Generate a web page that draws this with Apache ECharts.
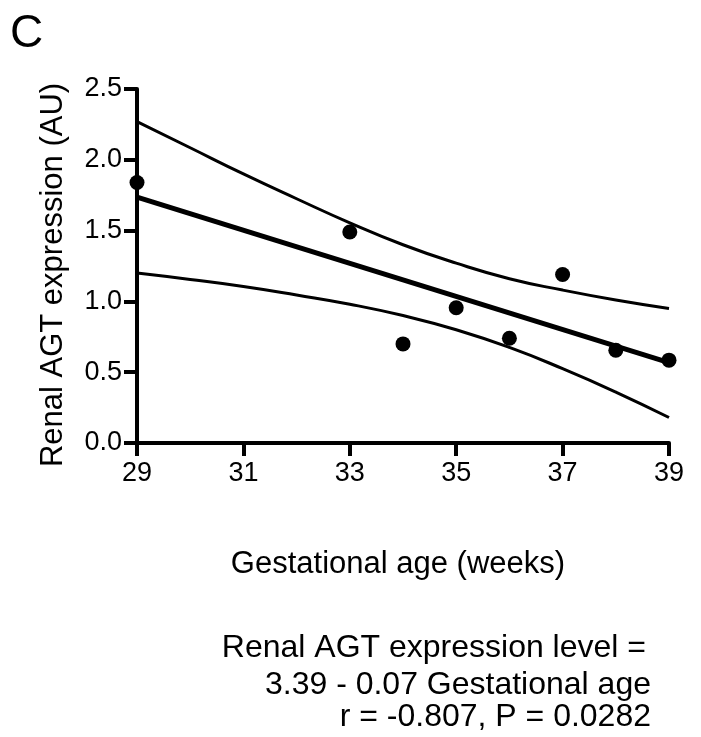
<!DOCTYPE html>
<html>
<head>
<meta charset="utf-8">
<script src="https://cdn.jsdelivr.net/npm/echarts@6/dist/echarts.min.js"></script>
<style>
  html, body { margin: 0; padding: 0; background: #fff; }
  #chart { width: 701px; height: 737px; }
</style>
</head>
<body>
<div id="chart"></div>
<script>
// measured points
var weeks = [29, 33, 34, 35, 36, 37, 38, 39]
var agtLevel = [1.84, 1.49, 0.70, 0.955, 0.74, 1.19, 0.655, 0.585]

// regression line and 95% band
var fitWeeks = [29, 39]
var fitLevel = [1.737, 0.567]
var bandWeeks = [29, 30, 31, 32, 33, 34, 35, 36, 37, 38, 39]
var bandUpper = [2.27, 2.085, 1.90, 1.725, 1.555, 1.40, 1.27, 1.16, 1.08, 1.01, 0.95]
var bandLower = [1.20, 1.155, 1.105, 1.045, 0.98, 0.90, 0.80, 0.675, 0.525, 0.36, 0.18]

var xTicks = [29, 31, 33, 35, 37, 39]
var yTicks = [0.0, 0.5, 1.0, 1.5, 2.0, 2.5]

function pairs(xs, ys) {
  return xs.map(function (x, i) { return [x, ys[i]] })
}

var chart = echarts.init(document.getElementById('chart'))
var font = 'Liberation Sans, Arial, sans-serif'

function label(text, x, y, size, align, rotation) {
  return {
    type: 'text', x: x, y: y, rotation: rotation || 0,
    style: {
      text: text, fontSize: size, fontFamily: font, fill: '#000',
      align: align, verticalAlign: 'middle'
    }
  }
}

var option = {
  backgroundColor: '#fff',
  animation: false,
  grid: {
    left: 137,
    right: 32,
    top: 89,
    bottom: 294
  },
  xAxis: {
    type: 'value',
    min: xTicks[0],
    max: xTicks[xTicks.length - 1],
    interval: 2,
    splitLine: { show: false },
    axisLine: { lineStyle: { color: '#000', width: 4 } },
    axisTick: { show: true, length: 13, lineStyle: { color: '#000', width: 4 } },
    axisLabel: { color: '#000', fontSize: 27, fontFamily: font, margin: 17 }
  },
  yAxis: {
    type: 'value',
    min: yTicks[0],
    max: yTicks[yTicks.length - 1],
    interval: 0.5,
    splitLine: { show: false },
    axisLine: { lineStyle: { color: '#000', width: 4 } },
    axisTick: { show: true, length: 13, lineStyle: { color: '#000', width: 4 } },
    axisLabel: {
      color: '#000', fontSize: 27, fontFamily: font, margin: 15,
      formatter: function (v) { return v.toFixed(1) }
    }
  },
  series: [
    {
      type: 'line',
      data: pairs(bandWeeks, bandUpper),
      smooth: true,
      showSymbol: false,
      lineStyle: { color: '#000', width: 3 }
    },
    {
      type: 'line',
      data: pairs(bandWeeks, bandLower),
      smooth: true,
      showSymbol: false,
      lineStyle: { color: '#000', width: 3 }
    },
    {
      type: 'line',
      data: pairs(fitWeeks, fitLevel),
      showSymbol: false,
      lineStyle: { color: '#000', width: 5 }
    },
    {
      type: 'scatter',
      data: pairs(weeks, agtLevel),
      symbolSize: 15,
      itemStyle: { color: '#000', opacity: 1 },
      clip: false,
      z: 5
    }
  ],
  graphic: [
    label('C', 10, 34, 46, 'left'),
    label('Renal AGT expression (AU)', 53, 275, 31, 'center', Math.PI / 2),
    label('Gestational age (weeks)', 398, 564, 31, 'center'),
    label('Renal AGT expression level =', 646, 648, 32, 'right'),
    label('3.39 - 0.07 Gestational age', 651, 685, 32, 'right'),
    label('r = -0.807, P = 0.0282', 651, 717, 32, 'right')
  ]
}

chart.setOption(option)
</script>
</body>
</html>
